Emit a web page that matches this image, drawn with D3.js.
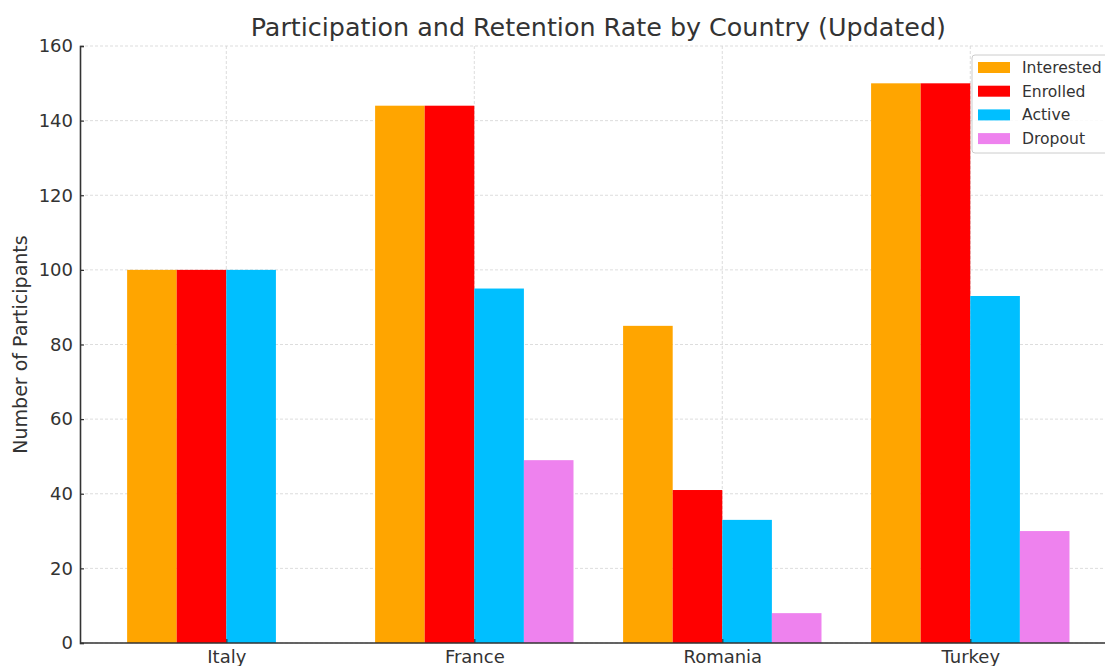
<!DOCTYPE html>
<html><head><meta charset="utf-8">
<script src="https://cdn.jsdelivr.net/npm/d3@7"></script>
<style>body{margin:0;background:#fff}svg{display:block}text{font-family:"DejaVu Sans",sans-serif}</style>
</head><body><svg id="c" width="1105" height="666"></svg>
<script>
const categories = ["Italy","France","Romania","Turkey"];
const seriesNames = ["Interested","Enrolled","Active","Dropout"];
const interested = [100,144,85,150];
const enrolled = [100,144,41,150];
const active = [100,95,33,93];
const dropout = [0,49,8,30];
const colors = ["#FFA500","#FF0000","#00BFFF","#EE82EE"];
const yTicks = [0,20,40,60,80,100,120,140,160];
const series = [interested,enrolled,active,dropout];

const svg = d3.select("#c");
const L=80, R=1116.6, T=46, B=643;
const x = d3.scaleLinear().domain([-0.59,3.59]).range([L,R]);
const y = d3.scaleLinear().domain([0,160]).range([B,T]);
const w = 0.2;

// grid
const g = svg.append("g");
g.selectAll(".hg").data(yTicks).enter().append("line")
  .attr("x1",L).attr("x2",R).attr("y1",d=>y(d)).attr("y2",d=>y(d))
  .attr("stroke","#d4d4d4").attr("stroke-width",0.8).attr("stroke-dasharray","3,2");
g.selectAll(".vg").data(categories).enter().append("line")
  .attr("x1",(d,i)=>x(i)).attr("x2",(d,i)=>x(i)).attr("y1",T).attr("y2",B)
  .attr("stroke","#d4d4d4").attr("stroke-width",0.8).attr("stroke-dasharray","3,2");

// bars
series.forEach((vals,s)=>{
  svg.append("g").selectAll("rect").data(vals).enter().append("rect")
    .attr("x",(d,i)=>x(i+(s-2)*w))
    .attr("width",x(w)-x(0))
    .attr("y",d=>y(d)).attr("height",d=>y(0)-y(d))
    .attr("fill",colors[s]);
});

// axes
const ya = svg.append("g").attr("transform",`translate(${L},0)`)
  .call(d3.axisLeft(y).tickValues(yTicks).tickSize(-4).tickPadding(7));
ya.select(".domain").attr("stroke","#333").attr("stroke-width",1.6);
ya.selectAll(".tick line").attr("stroke","#333").attr("stroke-width",1.2);
ya.selectAll("text").attr("font-size",18).attr("fill","#333").attr("font-family","DejaVu Sans");

const xa = svg.append("g").attr("transform",`translate(0,${B})`)
  .call(d3.axisBottom(x).tickValues([0,1,2,3]).tickFormat(i=>categories[i]).tickSize(-4).tickPadding(7));
xa.select(".domain").attr("stroke","#333").attr("stroke-width",1.6).attr("d",`M${L},0H${R}`);
xa.selectAll(".tick line").attr("stroke","#333").attr("stroke-width",1.2);
xa.selectAll("text").attr("font-size",18).attr("fill","#333").attr("font-family","DejaVu Sans");

// title
svg.append("text").attr("x",(L+R)/2).attr("y",36).attr("text-anchor","middle")
  .attr("font-size",25.4).attr("fill","#333").text("Participation and Retention Rate by Country (Updated)");
// y label
svg.append("text").attr("transform",`translate(27,${(T+B)/2}) rotate(-90)`).attr("text-anchor","middle")
  .attr("font-size",19).attr("fill","#333").text("Number of Participants");

// legend
const lg = svg.append("g").attr("transform","translate(972,55)");
lg.append("rect").attr("x",0).attr("y",0).attr("width",150).attr("height",98).attr("rx",3)
  .attr("fill","#fff").attr("fill-opacity",0.85).attr("stroke","#ccc");
seriesNames.forEach((n,i)=>{
  lg.append("rect").attr("x",6).attr("y",7+i*23.7).attr("width",32).attr("height",11).attr("fill",colors[i]);
  lg.append("text").attr("x",50).attr("y",18+i*23.7).attr("font-size",15.6).attr("fill","#333").text(n);
});
</script></body></html>
